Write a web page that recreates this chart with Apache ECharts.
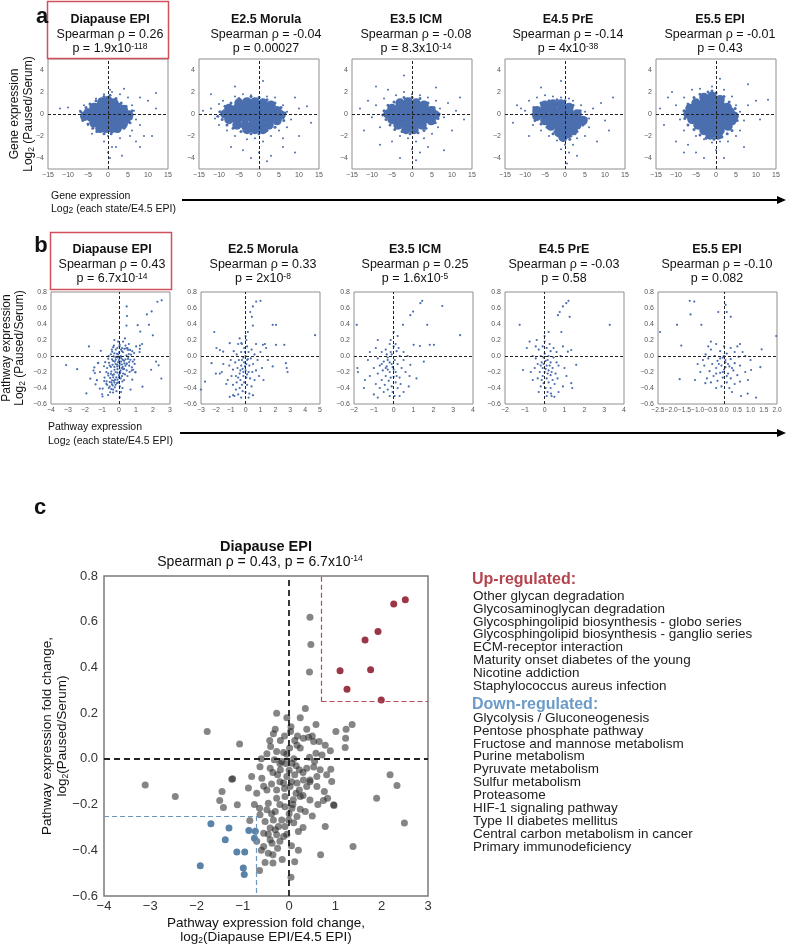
<!DOCTYPE html>
<html><head><meta charset="utf-8">
<script src="https://cdn.jsdelivr.net/npm/echarts@6/dist/echarts.min.js"></script>
<style>html,body{margin:0;padding:0;background:#fff}#chart{width:787px;height:947px}</style>
</head><body><div id="chart"></div>
<script>
const FONT = '"Liberation Sans", Arial, Helvetica, sans-serif';

// ---------- texts ----------
const stateNames = ['Diapause EPI', 'E2.5 Morula', 'E3.5 ICM', 'E4.5 PrE', 'E5.5 EPI'];
const geneRho = ['0.26', '-0.04', '-0.08', '-0.14', '-0.01'];
const geneP = ['1.9x10{sup|-118}', '0.00027', '8.3x10{sup|-14}', '4x10{sup|-38}', '0.43'];
const pathRho = ['0.43', '0.33', '0.25', '-0.03', '-0.10'];
const pathP = ['6.7x10{sup|-14}', '2x10{sup|-8}', '1.6x10{sup|-5}', '0.58', '0.082'];
const upList = ['Other glycan degradation', 'Glycosaminoglycan degradation', 'Glycosphingolipid biosynthesis - globo series', 'Glycosphingolipid biosynthesis - ganglio series', 'ECM-receptor interaction', 'Maturity onset diabetes of the young', 'Nicotine addiction', 'Staphylococcus aureus infection'];
const downList = ['Glycolysis / Gluconeogenesis', 'Pentose phosphate pathway', 'Fructose and mannose metabolism', 'Purine metabolism', 'Pyruvate metabolism', 'Sulfur metabolism', 'Proteasome', 'HIF-1 signaling pathway', 'Type II diabetes mellitus', 'Central carbon metabolism in cancer', 'Primary immunodeficiency'];

// ---------- axes ----------
const geneX = [-15, 15, 5];
const geneY = [-5, 5, 1];
const pathXMin = [-4, -3, -2, -2, -2.5];
const pathXMax = [3, 5, 4, 4, 2];
const pathXStep = [1, 1, 1, 1, 0.5];
const pathY = [-0.6, 0.8, 0.2];
const cX = [-4, 3, 1];
const upThreshX = 0.7, upThreshY = 0.25, downThreshX = -0.7, downThreshY = -0.25;

// ---------- panel a data (log2 each state/E4.5 EPI, log2 paused/serum) ----------
const geneCore1 = [[-1.5,1.1],[0,1.2],[1.5,1.0],[-3.5,0.6],[-2,0.7],[-0.5,0.7],[1,0.7],[2.5,0.6],[3.8,0.4],[-5,0.1],[-3.5,0.2],[-2,0.2],[-0.5,0.2],[1,0.2],[2.5,0.2],[4,0.1],[5.2,-0.1],[-5.8,-0.2],[-4.2,-0.3],[-2.8,-0.3],[-1.2,-0.3],[0.3,-0.3],[1.8,-0.3],[3.2,-0.4],[4.5,-0.5],[-3.5,-0.8],[-2,-0.8],[-0.5,-0.8],[1,-0.8],[2.5,-0.9],[3.8,-0.9],[-2,-1.3],[-0.5,-1.3],[1,-1.3],[2.3,-1.3]];
const geneHalo1 = [[-6.8,0.2],[-6.3,-0.6],[-5.5,0.6],[-5,-0.9],[-4.5,0.9],[-3.8,-1.3],[-3,1.2],[-2.8,-1.6],[-1,1.6],[0.5,1.7],[-1,-1.8],[0.8,-1.8],[2,1.4],[2.5,-1.6],[3.3,1.0],[4,-1.3],[4.5,0.7],[5.5,-0.8],[6,0.3],[5.8,-0.4]];
const geneFringe1 = [[-12,0.5],[-10,0.6],[-7,0.3],[-6.5,-0.4],[-6,0.8],[-5,-1],[6,0.8],[6.5,0.3],[7,-0.5],[5,1.5],[3,1.8],[0.5,2.2],[1,2],[-1,1.8],[4,2.3],[8,1.5],[10,1.2],[12,1.9],[6,-1.5],[8,-1],[9,-2],[7,-2.5],[3,-2.2],[0,-2],[-1,-2.5],[1,-3],[0,-3.5],[0.5,-4],[2,-3],[8,-3],[3.5,-3.8],[11,-2],[-4,-1.8],[-3,1.4],[5.5,-2],[12,0.5]];
const geneCore2 = [[-5,1.0],[-3,1.1],[-1,1.1],[1,1.0],[3,0.8],[-7.5,0.5],[-5.5,0.5],[-3.5,0.6],[-1.5,0.6],[0.5,0.6],[2.5,0.5],[4.5,0.3],[-8.5,0.0],[-6.5,0.0],[-4.5,0.1],[-2.5,0.1],[-0.5,0.1],[1.5,0.0],[3.5,-0.1],[5.5,-0.1],[-7.5,-0.5],[-5.5,-0.5],[-3.5,-0.4],[-1.5,-0.4],[0.5,-0.5],[2.5,-0.5],[4.5,-0.6],[-5.5,-1.0],[-3.5,-1.0],[-1.5,-0.9],[0.5,-1.0],[2.5,-1.0],[-3,-1.4],[-1,-1.4],[1,-1.4]];
const geneHalo2 = [[-9.8,0.2],[-9.2,-0.5],[-8.5,0.7],[-8,-1],[-7,1.0],[-6.5,-1.3],[-5,1.4],[-4.5,-1.6],[-2,1.6],[0,1.5],[-2,-1.8],[0,-1.8],[2,1.3],[2,-1.5],[4,1.0],[4,-1.2],[5.5,0.6],[6.2,-0.6],[6.5,0.1],[-10.3,-0.2]];
const geneFringe2 = [[-14,0.3],[-12,0.5],[-11,-0.4],[-10,0.9],[-10,-1],[-9,1.2],[-8,-1.5],[-12,1.8],[-6,1.6],[-4,1.8],[-2,1.7],[0,1.5],[2,1.6],[4,1.5],[6,0.8],[7,0.2],[8,-0.5],[7,-1.2],[5,-1.5],[9,1.5],[10,0.5],[12,0.7],[13,-0.8],[10,-2],[6,-2.2],[3,-2],[1,-2.5],[-1,-2.2],[-3,-2.3],[-6,-2],[-7,-3],[-4,-3.3],[0,-3.5],[3,-3.8],[6,-3],[9,-3.5],[-2,-4],[2,-4.3],[1,3],[-6,2.5]];
const geneCore3 = [[-3,1.0],[-1,1.1],[1,1.0],[3,0.8],[-5,0.5],[-3,0.6],[-1,0.6],[1,0.6],[3,0.5],[4.8,0.3],[-6,0.0],[-4,0.1],[-2,0.1],[0,0.1],[2,0.0],[4,0.0],[5.8,-0.1],[-5,-0.5],[-3,-0.4],[-1,-0.4],[1,-0.5],[3,-0.5],[4.8,-0.6],[-3.5,-1.0],[-1.5,-0.9],[0.5,-1.0],[2.5,-1.0],[-1.5,-1.4],[0.5,-1.4]];
const geneHalo3 = [[-7,0.3],[-6.5,-0.5],[-6,0.8],[-5.5,-1.0],[-4.5,1.1],[-4.3,-1.4],[-2,1.5],[0,1.5],[-2.5,-1.6],[-0.5,-1.8],[1.5,-1.7],[2,1.4],[3.5,-1.3],[4,1.0],[5.5,0.6],[5.8,-0.8],[6.8,0.0],[6.5,-0.4],[-7.3,-0.1],[3,-1.5]];
const geneFringe3 = [[-13,0.5],[-11,1.2],[-10,-0.3],[-9,0.8],[-8,-1.2],[-7,1.4],[-6,2.2],[-4,1.7],[-2,2.0],[0,1.8],[2,1.7],[4,1.5],[6,1.2],[7,0.5],[8,-0.3],[6.5,-1.2],[9,1.0],[11,0.3],[10,-1.5],[12,1.5],[13,-0.5],[5,-1.8],[3,-2.2],[1,-2.5],[-1,-2.2],[-3,-2],[-5,-2.5],[-8,-2.8],[0,-3.2],[2,-3.5],[4,-3],[8,-3.3],[-3,-4],[1,-4.2],[-2,3.5],[-9,2.5],[6,2.4],[-12,-1.5]];
const geneCore4 = [[-5,0.8],[-3,0.9],[-1,0.9],[1,0.6],[-7,0.3],[-5,0.4],[-3,0.4],[-1,0.3],[1,0.2],[3,0.0],[-7,-0.2],[-5,-0.1],[-3,-0.1],[-1,-0.2],[1,-0.3],[3,-0.5],[4.5,-0.6],[-5,-0.6],[-3,-0.6],[-1,-0.7],[1,-0.8],[3,-1.0],[-3.5,-1.1],[-1.5,-1.2],[0.5,-1.3],[2,-1.5],[-1.5,-1.7],[0.5,-1.8],[-0.5,-2.1]];
const geneHalo4 = [[-8,0.0],[-7.8,0.6],[-7.5,-0.6],[-6,1.0],[-6,-0.9],[-4,1.2],[-4.5,-1.2],[-2,1.3],[0,1.2],[-2.5,-1.6],[-0.5,-2.4],[1.5,-2.0],[2,0.8],[3,-1.6],[3.8,0.3],[4.5,-1.0],[5.3,-0.4],[1.2,-2.3],[-3,-1.8],[2.5,-1.8]];
const geneFringe4 = [[-12,0.8],[-11,0.5],[-10,0.3],[-13,-0.8],[-9,1.2],[-8,-1],[-7,1.5],[-5,1.7],[-3,1.6],[-1,1.5],[1,1.4],[2,1.2],[4,0.8],[5,0.2],[6,-0.4],[7,0.5],[9,1.0],[10,-0.6],[6,-1.2],[5,-2],[3,-2.2],[2,-2.8],[0,-2.8],[-2,-2.4],[-4,-2],[-6,-1.5],[-9,-2],[1,-3.5],[-1,-3.2],[3,-3.8],[0.5,-4.5],[8,-2.5],[12,1.5],[-1,3],[11,-1.5],[-6,2.4]];
const geneCore5 = [[-3,1.5],[-1,1.6],[1,1.3],[-5,1.0],[-3,1.0],[-1,1.1],[1,0.9],[2.8,0.6],[-6.5,0.5],[-4.5,0.5],[-2.5,0.5],[-0.5,0.5],[1.5,0.4],[3.5,0.2],[-7,0.0],[-5,0.0],[-3,0.0],[-1,0.0],[1,0.0],[3,-0.1],[4.5,-0.2],[-6,-0.5],[-4,-0.5],[-2,-0.5],[0,-0.5],[2,-0.5],[4,-0.6],[-4.5,-1.0],[-2.5,-1.0],[-0.5,-1.0],[1.5,-1.0],[3,-1.1],[-3,-1.5],[-1,-1.5],[1,-1.5],[-1.5,-1.9],[0.5,-1.9]];
const geneHalo5 = [[-8,0.3],[-7.8,-0.4],[-7,0.9],[-7,-1.0],[-5.5,1.5],[-5.5,-1.4],[-4,1.8],[-2,2.0],[0,1.9],[-4,-1.9],[-2.5,-2.2],[-0.5,-2.3],[1.5,-2.1],[2,1.6],[3.3,1.1],[4,-1.5],[4.8,0.5],[5.3,-0.6],[2.8,-1.8],[-1,2.1]];
const geneFringe5 = [[-14,0.5],[-12,1.5],[-11,2.0],[-10,0.8],[-9,-0.5],[-8,1.5],[-8,-1.5],[-6,2.2],[-4,2.3],[-1,2.5],[2,2.2],[4,1.6],[5,0.8],[6,0.2],[7,-0.6],[8,0.8],[10,1.2],[11,-0.5],[6,-1.5],[5,-2],[3,-2.5],[1,-2.5],[-1,-2.6],[-3,-2.3],[-5,-2],[-7,-2.8],[-10,-2.5],[-5,-3.5],[-3,-4],[0,-3.3],[2,-4],[-8,-3.5],[13,1.3],[7,-3],[-13,-1],[1,3.2],[8,2.7]];

// ---------- panel c / b1 data (Diapause EPI) ----------
const pathUp = [[2.51,0.696],[2.26,0.678],[1.92,0.557],[1.64,0.52],[1.10,0.385],[1.76,0.39],[1.25,0.305],[1.99,0.258]];
const pathDown = [[-1.69,-0.284],[-1.30,-0.302],[-1.38,-0.354],[-0.87,-0.313],[-0.73,-0.317],[-0.75,-0.347],[-1.13,-0.407],[-0.96,-0.407],[-1.92,-0.468],[-0.99,-0.478],[-0.97,-0.506]];
const pathOther = [[0.45,0.62],[0.47,0.50],[0.44,0.38],[-0.27,0.20],[0.35,0.22],[-0.05,0.18],[0.24,0.18],[0.58,0.15],[0.38,0.13],[1.01,0.12],[1.23,0.13],[1.36,0.15],[1.22,0.09],[1.21,0.05],[-1.77,0.12],[-1.07,0.065],[0.04,0.14],[0.03,0.12],[-0.30,0.13],[-0.34,0.11],[-0.42,0.08],[-0.19,0.08],[0.12,0.08],[0.17,0.06],[0.31,0.09],[0.42,0.095],[0.53,0.076],[0.65,0.076],[0.78,0.06],[0.89,0.036],[0.71,0.017],[0.58,0.025],[0.44,0.007],[0.24,0.047],[0.01,0.047],[-0.12,0.028],[-0.27,0.032],[-0.40,0.054],[-0.48,0.022],[-0.32,-0.004],[-0.16,-0.012],[0.06,-0.019],[0.22,-0.048],[0.38,-0.041],[0.53,-0.036],[0.67,-0.048],[0.90,-0.045],[0.81,-0.07],[0.60,-0.077],[0.45,-0.092],[0.31,-0.092],[0.17,-0.106],[-0.05,-0.077],[-0.19,-0.048],[-0.41,-0.041],[-0.63,-0.034],[-0.59,-0.085],[-0.81,-0.077],[-0.88,-0.128],[-1.22,-0.087],[-1.45,-0.143],[-1.50,-0.182],[-1.42,-0.213],[-1.12,-0.201],[-0.70,-0.15],[-0.48,-0.136],[-0.27,-0.136],[-0.12,-0.106],[0.02,-0.121],[0.22,-0.136],[0.38,-0.121],[0.60,-0.121],[0.76,-0.143],[0.92,-0.099],[0.83,-0.172],[0.74,-0.182],[0.97,-0.204],[0.24,-0.165],[0.09,-0.179],[-0.09,-0.165],[-0.27,-0.172],[-0.45,-0.194],[-0.64,-0.216],[-0.63,-0.245],[-0.48,-0.223],[-0.30,-0.23],[-0.09,-0.209],[0.06,-0.216],[0.24,-0.22],[0.17,-0.252],[-0.01,-0.267],[-0.16,-0.267],[-0.34,-0.267],[-0.52,-0.274],[-0.41,-0.303],[-0.23,-0.296],[-0.09,-0.296],[-0.55,-0.325],[-0.27,-0.332],[-0.12,-0.34],[-0.41,-0.354],[-0.37,-0.369],[-0.55,-0.383],[-0.25,-0.391],[-0.45,-0.413],[0.20,-0.318],[0.78,-0.296],[0.68,-0.42],[1.38,-0.383],[-0.52,-0.453],[-0.35,-0.456],[0.12,-0.45],[-0.64,-0.488],[0.04,-0.518],[-3.11,-0.114],[-2.46,-0.165],[-1.24,-0.089],[2.18,-0.07],[2.33,-0.117],[1.89,-0.172],[2.49,-0.281],[0.96,-0.201],[-0.05,0.02],[0.10,0.00],[0.15,-0.03],[-0.20,-0.02],[-0.35,-0.06],[0.00,-0.05],[0.12,-0.07],[0.30,-0.06],[-0.10,-0.13],[0.05,-0.10],[0.15,-0.15],[0.30,-0.16],[0.45,-0.18],[-0.20,-0.10],[-0.38,-0.11],[-0.55,-0.12],[-0.20,-0.20],[-0.38,-0.24],[0.00,-0.24],[0.10,-0.28],[-0.30,-0.31],[-0.45,-0.33],[-0.20,-0.36],[-0.05,-0.33],[0.05,-0.38],[-0.35,-0.42],[-0.15,-0.44],[0.35,-0.23],[0.50,-0.25],[0.30,-0.30],[0.45,-0.10],[0.55,-0.01],[0.18,0.10],[-0.10,0.10],[0.50,0.10],[-0.60,0.00],[-0.75,-0.20],[-0.85,-0.27],[-0.70,-0.36],[-0.60,-0.40],[0.62,-0.20],[0.20,-0.40],[-0.07,-0.02],[0.08,-0.20],[-0.25,-0.07]];

// ---------- panel b, other states ----------
const pathMorula = [[0.31,0.55],[0.71,0.68],[1.0,0.69],[0.49,0.62],[0.42,0.49],[0.49,0.38],[1.82,0.39],[2.04,0.39],[4.67,0.26],[-2.11,0.30],[-0.4,0.22],[-0.29,0.16],[-1.96,0.10],[-1.73,0.075],[-1.51,0.054],[-1.07,0.16],[1.16,0.14],[1.38,0.10],[2.04,0.14],[2.6,0.14],[-2.29,-0.09],[-1.73,-0.22],[-1.6,-0.2],[-3.0,-0.42],[-2.73,-0.32],[2.71,-0.09],[2.76,-0.15],[2.82,-0.2],[1.82,-0.13],[-1.07,-0.51],[-0.84,-0.49],[0.49,-0.49],[1.2,-0.3],[1.5,-0.05],[-1.3,-0.35],[-2.0,-0.22],[-0.1,0.1],[0.1,0.12],[-0.3,0.05],[0.2,0.05],[0.4,0.08],[0.6,0.02],[-0.6,0.02],[-0.8,0.06],[0.0,0.0],[-0.15,-0.02],[0.15,-0.04],[0.35,-0.03],[0.8,-0.05],[-0.45,-0.05],[-0.7,-0.08],[-1.0,-0.05],[-0.1,-0.08],[0.05,-0.1],[0.25,-0.12],[0.5,-0.1],[-0.3,-0.12],[-0.55,-0.15],[-0.85,-0.17],[-0.2,-0.16],[0.0,-0.18],[0.2,-0.2],[0.45,-0.2],[0.7,-0.18],[-0.4,-0.22],[-0.65,-0.25],[-0.95,-0.25],[-0.15,-0.25],[0.05,-0.27],[0.3,-0.28],[-0.35,-0.3],[-0.6,-0.33],[-0.85,-0.36],[-0.1,-0.33],[0.1,-0.36],[0.4,-0.38],[-0.4,-0.4],[-0.65,-0.42],[-0.2,-0.44],[0.0,-0.45],[0.25,-0.47],[-0.5,-0.48],[-1.2,-0.3],[-1.1,-0.12],[1.0,0.05],[0.9,-0.25],[-0.25,0.15],[0.05,0.2],[-0.05,0.05],[-0.25,-0.05],[0.1,-0.05],[-0.05,-0.13],[-0.35,-0.18],[-0.15,-0.2],[0.1,-0.23],[-0.5,-0.27],[-0.25,-0.36],[0.6,-0.3],[0.15,0.3],[0.0,0.25],[-0.5,0.15],[1.3,0.15],[0.7,0.15],[-1.5,-0.1],[1.1,-0.15],[-0.75,-0.5],[-0.3,-0.52],[0.2,-0.52]];
const pathICM = [[1.44,0.69],[1.35,0.66],[0.98,0.555],[0.84,0.51],[0.47,0.39],[1.69,0.39],[2.45,0.625],[3.35,0.26],[1.32,0.125],[1.82,0.14],[2.03,0.14],[1.01,0.14],[1.52,-0.07],[0.84,-0.11],[1.15,-0.28],[0.76,-0.38],[-1.86,0.39],[-0.8,0.2],[-1.83,-0.15],[-1.8,-0.2],[-1.45,-0.3],[-1.5,-0.4],[-1.0,-0.48],[-0.8,-0.52],[-1.2,0.05],[0.0,0.3],[0.2,0.25],[0.5,-0.45],[0.3,-0.5],[-0.2,0.15],[0.0,0.12],[-0.4,0.08],[0.15,0.06],[-0.6,0.05],[-0.1,0.02],[0.3,0.0],[-0.3,-0.02],[-0.8,-0.03],[0.05,-0.05],[-0.5,-0.07],[-0.2,-0.08],[0.2,-0.1],[-0.7,-0.12],[-0.35,-0.13],[-0.05,-0.14],[0.4,-0.15],[-1.0,-0.15],[-0.55,-0.18],[-0.2,-0.2],[0.1,-0.2],[-0.8,-0.22],[-0.4,-0.25],[0.0,-0.26],[0.3,-0.27],[-0.6,-0.3],[-0.25,-0.31],[0.1,-0.33],[-0.45,-0.36],[-0.1,-0.38],[0.2,-0.4],[-0.3,-0.42],[-0.05,-0.45],[-0.7,-0.4],[0.5,-0.05],[0.6,-0.2],[-1.2,-0.25],[-0.15,0.05],[-0.3,-0.05],[-0.1,-0.1],[0.0,-0.17],[-0.3,-0.17],[-0.15,-0.27],[-0.35,0.02],[0.25,0.1],[0.5,0.05],[-0.9,0.1],[-0.6,-0.1],[0.35,-0.35],[-0.5,-0.45],[-0.15,0.2],[0.1,0.15],[-1.3,-0.05],[0.7,0.0],[0.8,-0.25],[-0.9,-0.35],[-0.2,-0.5],[0.05,-0.5],[-0.4,-0.15],[0.15,-0.25]];
const pathPrE = [[1.2,0.69],[1.09,0.66],[0.92,0.62],[0.76,0.55],[0.67,0.51],[1.26,0.49],[0.84,0.30],[-1.26,0.39],[3.28,0.39],[-0.76,0.18],[-1.09,-0.175],[1.34,0.075],[1.17,0.054],[0.92,0.12],[1.59,-0.11],[1.34,-0.34],[1.39,-0.40],[0.32,-0.47],[0.49,-0.51],[0.92,-0.38],[0.0,0.25],[-0.9,0.1],[-0.6,-0.3],[0.2,0.3],[-0.4,0.2],[1.0,-0.15],[0.7,-0.45],[-0.1,0.12],[0.1,0.1],[-0.3,0.08],[0.3,0.06],[0.0,0.03],[-0.2,0.0],[0.2,0.0],[0.45,-0.02],[-0.45,-0.03],[0.05,-0.06],[-0.15,-0.08],[0.3,-0.08],[0.6,-0.08],[-0.35,-0.1],[0.1,-0.12],[-0.1,-0.15],[0.4,-0.15],[-0.5,-0.15],[0.2,-0.18],[0.0,-0.2],[-0.25,-0.2],[0.55,-0.22],[0.3,-0.24],[-0.1,-0.25],[0.1,-0.28],[-0.35,-0.28],[0.4,-0.3],[0.2,-0.33],[-0.05,-0.34],[0.05,-0.4],[0.3,-0.4],[-0.2,-0.38],[0.15,-0.45],[0.7,-0.12],[0.8,0.0],[-0.6,0.0],[-0.05,-0.02],[0.15,-0.05],[-0.2,-0.12],[0.25,-0.12],[0.05,-0.16],[-0.05,-0.1],[0.35,-0.2],[0.15,-0.22],[-0.15,-0.3],[0.5,-0.35],[0.6,0.05],[0.45,0.1],[-0.45,0.12],[0.0,0.18],[0.25,0.15],[-0.7,-0.2],[0.65,-0.28],[0.1,-0.5],[-0.3,-0.45],[0.35,-0.5],[1.1,-0.25]];
const pathE55 = [[-1.3,0.69],[-1.13,0.68],[-1.27,0.52],[-0.86,0.39],[-1.78,0.39],[-2.42,0.30],[-1.62,0.13],[-1.68,-0.29],[0.06,0.64],[0.10,0.55],[-0.22,0.55],[0.25,0.49],[1.97,0.25],[1.42,0.083],[1.02,-0.175],[1.37,-0.14],[0.64,-0.5],[0.89,-0.47],[1.21,-0.52],[-0.65,-0.28],[-0.71,-0.34],[-1.0,-0.1],[-0.9,-0.2],[0.8,0.0],[-0.5,0.18],[0.6,0.15],[-1.1,-0.3],[0.9,-0.3],[-0.3,0.15],[0.0,0.12],[0.25,0.1],[-0.5,0.08],[-0.15,0.06],[0.4,0.05],[0.1,0.03],[-0.35,0.0],[0.55,-0.01],[-0.05,-0.02],[-0.6,-0.03],[0.25,-0.04],[-0.25,-0.06],[0.05,-0.08],[0.4,-0.09],[-0.45,-0.1],[-0.1,-0.12],[0.2,-0.13],[0.6,-0.12],[-0.75,-0.12],[-0.3,-0.15],[0.0,-0.17],[0.35,-0.18],[-0.55,-0.19],[-0.15,-0.21],[0.15,-0.22],[0.5,-0.24],[-0.4,-0.25],[-0.05,-0.27],[0.25,-0.28],[-0.25,-0.31],[0.1,-0.33],[-0.5,-0.33],[0.4,-0.35],[-0.1,-0.38],[0.2,-0.4],[0.05,-0.05],[-0.15,-0.03],[0.15,-0.1],[-0.2,-0.1],[0.05,-0.14],[0.3,-0.15],[-0.05,-0.2],[0.0,0.0],[0.1,-0.25],[-0.3,-0.22],[0.7,0.05],[0.8,-0.2],[-0.8,-0.05],[0.5,0.12],[-0.6,0.12],[0.3,-0.45],[-0.3,-0.4],[0.6,-0.32],[-0.7,0.02],[1.0,-0.05]];

// ---------- assemble ----------
const geneCore = [geneCore1, geneCore2, geneCore3, geneCore4, geneCore5];
const geneHalo = [geneHalo1, geneHalo2, geneHalo3, geneHalo4, geneHalo5];
const geneFringe = [geneFringe1, geneFringe2, geneFringe3, geneFringe4, geneFringe5];
const pathStates = [pathOther.concat(pathUp, pathDown), pathMorula, pathICM, pathPrE, pathE55];

const BLUE = '#4a6eae';
const minus = s => String(s).replace('-', '\u2212');
const gridBase = { show: true, borderColor: '#8e8e8e', borderWidth: 1, backgroundColor: 'rgba(0,0,0,0)', containLabel: false, outerBoundsMode: 'none' };
const aLefts = [48, 199, 352, 505, 656];
const bLefts = [51, 201, 354, 505, 658];

const grid = [], xAxis = [], yAxis = [], series = [];
const zeroLine = (w, dash) => ({
  silent: true, symbol: ['none', 'none'], label: { show: false }, animation: false,
  lineStyle: { color: '#222', width: w, type: dash },
  data: [{ xAxis: 0 }, { yAxis: 0 }]
});
const smallLabel = { fontSize: 7, color: '#555', fontFamily: FONT, showMinLabel: true, showMaxLabel: true, hideOverlap: false };

// panel a
for (let i = 0; i < 5; i++) {
  grid.push(Object.assign({ left: aLefts[i], top: 59, width: 120, height: 110 }, gridBase));
  xAxis.push({ type: 'value', gridIndex: i, min: geneX[0], max: geneX[1], interval: geneX[2],
    axisLine: { show: false }, axisTick: { show: false }, splitLine: { show: false },
    axisLabel: Object.assign({ margin: 3, formatter: v => minus(v) }, smallLabel) });
  yAxis.push({ type: 'value', gridIndex: i, min: geneY[0], max: geneY[1], interval: geneY[2],
    axisLine: { show: false }, axisTick: { show: false }, splitLine: { show: false },
    axisLabel: Object.assign({ margin: 4, formatter: v => (Math.round(v) % 2 === 0 ? minus(Math.round(v)) : '') }, smallLabel) });
  series.push({ type: 'scatter', xAxisIndex: i, yAxisIndex: i, data: geneCore[i], symbolSize: 9.5, silent: true, z: 2,
    itemStyle: { color: BLUE, opacity: 1 } });
  series.push({ type: 'scatter', xAxisIndex: i, yAxisIndex: i, data: geneHalo[i], symbolSize: 3, silent: true, z: 2,
    itemStyle: { color: BLUE, opacity: 1 } });
  series.push({ type: 'scatter', xAxisIndex: i, yAxisIndex: i, data: geneFringe[i], symbolSize: 2, silent: true, z: 3,
    itemStyle: { color: BLUE, opacity: 1 }, markLine: zeroLine(1, [3, 2]) });
}
// panel b
for (let i = 0; i < 5; i++) {
  const g = 5 + i;
  grid.push(Object.assign({ left: bLefts[i], top: 292, width: 119, height: 112 }, gridBase));
  xAxis.push({ type: 'value', gridIndex: g, min: pathXMin[i], max: pathXMax[i], interval: pathXStep[i],
    axisLine: { show: false }, axisTick: { show: false }, splitLine: { show: false },
    axisLabel: Object.assign({ margin: 3, formatter: v => minus(pathXStep[i] < 1 ? v.toFixed(1) : Math.round(v)) }, smallLabel,
      pathXStep[i] < 1 ? { fontSize: 6.6 } : {}) });
  yAxis.push({ type: 'value', gridIndex: g, min: pathY[0], max: pathY[1], interval: pathY[2],
    axisLine: { show: false }, axisTick: { show: false }, splitLine: { show: false },
    axisLabel: Object.assign({ margin: 4, formatter: v => minus(v.toFixed(1)) }, smallLabel) });
  series.push({ type: 'scatter', xAxisIndex: g, yAxisIndex: g, data: pathStates[i], symbolSize: 2.2, silent: true, z: 3,
    itemStyle: { color: BLUE, opacity: 1 }, markLine: zeroLine(1, [3, 2]) });
}
// panel c
grid.push(Object.assign({}, gridBase, { left: 104, top: 576, width: 324, height: 320, borderColor: '#7a7a7a', borderWidth: 1.5 }));
const bigLabel = { fontSize: 13, color: '#333', fontFamily: FONT, showMinLabel: true, showMaxLabel: true };
xAxis.push({ type: 'value', gridIndex: 10, min: cX[0], max: cX[1], interval: cX[2],
  axisLine: { show: false }, axisTick: { show: false }, splitLine: { show: false },
  axisLabel: Object.assign({ margin: 4, formatter: v => minus(Math.round(v)) }, bigLabel) });
yAxis.push({ type: 'value', gridIndex: 10, min: pathY[0], max: pathY[1], interval: pathY[2],
  axisLine: { show: false }, axisTick: { show: false }, splitLine: { show: false },
  axisLabel: Object.assign({ margin: 6, formatter: v => minus(v.toFixed(1)) }, bigLabel) });
series.push({ type: 'scatter', xAxisIndex: 10, yAxisIndex: 10, data: pathOther, symbolSize: 7, silent: true, z: 2,
  itemStyle: { color: 'rgba(40,40,40,0.57)', opacity: 1 } });
series.push({ type: 'scatter', xAxisIndex: 10, yAxisIndex: 10, data: pathUp, symbolSize: 7, silent: true, z: 3,
  itemStyle: { color: '#9c3545', opacity: 1 } });
series.push({ type: 'scatter', xAxisIndex: 10, yAxisIndex: 10, data: pathDown, symbolSize: 7, silent: true, z: 3,
  itemStyle: { color: '#5a83aa', opacity: 1 },
  markLine: {
    silent: true, symbol: ['none', 'none'], label: { show: false }, animation: false,
    lineStyle: { color: '#222', width: 1.8, type: [6, 4] },
    data: [
      { xAxis: 0 }, { yAxis: 0 },
      [{ coord: [upThreshX, upThreshY], lineStyle: { color: '#b34a57', width: 1.2, type: [5, 3] } }, { coord: [cX[1], upThreshY] }],
      [{ coord: [upThreshX, upThreshY], lineStyle: { color: '#b34a57', width: 1.2, type: [5, 3] } }, { coord: [upThreshX, pathY[1]] }],
      [{ coord: [cX[0], downThreshY], lineStyle: { color: '#6d98c0', width: 1.2, type: [5, 3] } }, { coord: [downThreshX, downThreshY] }],
      [{ coord: [downThreshX, downThreshY], lineStyle: { color: '#6d98c0', width: 1.2, type: [5, 3] } }, { coord: [downThreshX, pathY[0]] }]
    ]
  } });

// ---------- graphic texts ----------
const RICH = {
  sup: { fontSize: 8.5, verticalAlign: 'top', lineHeight: 9, fontFamily: FONT, fill: '#111' },
  sub: { fontSize: 8.5, verticalAlign: 'bottom', lineHeight: 9, fontFamily: FONT, fill: '#111' }
};
const txt = (x, y, text, size, opt = {}) => ({
  type: 'text', x, y, rotation: opt.rot || 0, silent: true,
  style: { text, fontSize: size, fontFamily: FONT, fontWeight: opt.bold ? 'bold' : 'normal',
    fill: opt.color || '#111', align: opt.align || 'center', verticalAlign: 'middle', lineHeight: size + 2,
    rich: opt.rich || RICH }
});
const elements = [];
const aTitleX = [110, 266, 416, 568, 720];
const bTitleX = [112, 263, 415, 564, 717];
for (let i = 0; i < 5; i++) {
  elements.push(txt(aTitleX[i], 20, stateNames[i], 12.5, { bold: true }));
  elements.push(txt(aTitleX[i], 35, 'Spearman \u03c1 = ' + geneRho[i], 12.5));
  elements.push(txt(aTitleX[i], 49, 'p = ' + geneP[i], 12.5));
  elements.push(txt(bTitleX[i], 250, stateNames[i], 12.5, { bold: true }));
  elements.push(txt(bTitleX[i], 265, 'Spearman \u03c1 = ' + pathRho[i], 12.5));
  elements.push(txt(bTitleX[i], 279, 'p = ' + pathP[i], 12.5));
}
elements.push(
  { type: 'rect', shape: { x: 47.5, y: 1.5, width: 121, height: 57 }, style: { fill: 'none', stroke: '#d0505c', lineWidth: 1.5 }, silent: true },
  { type: 'rect', shape: { x: 50.5, y: 232.5, width: 121, height: 57 }, style: { fill: 'none', stroke: '#d0505c', lineWidth: 1.5 }, silent: true },
  txt(42, 17, 'a', 22, { bold: true }),
  txt(41, 246, 'b', 22, { bold: true }),
  txt(40, 508, 'c', 22, { bold: true }),
  txt(15, 114, 'Gene expression', 12, { rot: Math.PI / 2 }),
  txt(29, 114, 'Log{sub|2} (Paused/Serum)', 12, { rot: Math.PI / 2 }),
  txt(7, 348, 'Pathway expression', 12, { rot: Math.PI / 2 }),
  txt(20, 348, 'Log{sub|2} (Paused/Serum)', 12, { rot: Math.PI / 2 }),
  txt(51, 196, 'Gene expression', 10.5, { align: 'left' }),
  txt(51, 209, 'Log{sub|2} (each state/E4.5 EPI)', 10.5, { align: 'left' }),
  txt(48, 427, 'Pathway expression', 10.5, { align: 'left' }),
  txt(48, 441, 'Log{sub|2} (each state/E4.5 EPI)', 10.5, { align: 'left' }),
  { type: 'line', shape: { x1: 182, y1: 200, x2: 779, y2: 200 }, style: { stroke: '#000', lineWidth: 2 }, silent: true },
  { type: 'polygon', shape: { points: [[777, 196], [786, 200], [777, 204]] }, style: { fill: '#000' }, silent: true },
  { type: 'line', shape: { x1: 180, y1: 433, x2: 779, y2: 433 }, style: { stroke: '#000', lineWidth: 2 }, silent: true },
  { type: 'polygon', shape: { points: [[777, 429], [786, 433], [777, 437]] }, style: { fill: '#000' }, silent: true },
  txt(266, 547, 'Diapause EPI', 14.5, { bold: true }),
  txt(260, 562, 'Spearman \u03c1 = 0.43, p = 6.7x10{sup|-14}', 14),
  txt(266, 923, 'Pathway expression fold change,', 13.5),
  txt(266, 937, 'log{sub|2}(Diapause EPI/E4.5 EPI)', 13.5),
  txt(47, 736, 'Pathway expression fold change,', 13.5, { rot: Math.PI / 2 }),
  txt(62, 736, 'log{sub|2}(Paused/Serum)', 13.5, { rot: Math.PI / 2 }),
  txt(472, 580, 'Up-regulated:', 16, { bold: true, align: 'left', color: '#b4454f' }),
  txt(472, 705, 'Down-regulated:', 16, { bold: true, align: 'left', color: '#6b9bc8' })
);
upList.forEach((s, k) => elements.push(txt(473, 596 + k * 12.9, s, 13.5, { align: 'left', color: '#222' })));
downList.forEach((s, k) => elements.push(txt(473, 718 + k * 12.9, s, 13.5, { align: 'left', color: '#222' })));

const chart = echarts.init(document.getElementById('chart'), null, { renderer: 'canvas' });
chart.setOption({
  animation: false,
  backgroundColor: '#fff',
  textStyle: { fontFamily: FONT },
  grid, xAxis, yAxis, series,
  graphic: { elements }
});
</script>
</body></html>
